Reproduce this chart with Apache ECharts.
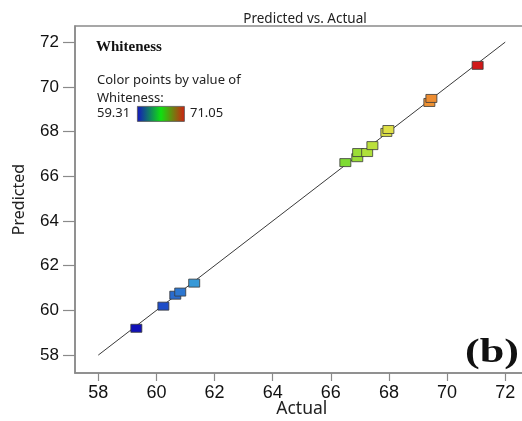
<!DOCTYPE html>
<html><head><meta charset="utf-8">
<script src="https://cdn.jsdelivr.net/npm/echarts@6/dist/echarts.min.js"></script>
<style>html,body{margin:0;padding:0;background:#fff}#c{width:522px;height:421px}</style>
</head><body><div id="c"></div>
<script>
const actual    = [59.31, 60.24, 60.65, 60.82, 61.30, 66.50, 66.91, 66.94, 67.25, 67.43, 67.91, 67.98, 69.39, 69.46, 71.05];
const predicted = [59.20, 60.19, 60.68, 60.82, 61.22, 66.61, 66.83, 67.06, 67.06, 67.37, 67.96, 68.09, 69.30, 69.48, 70.96];
const diagonal = [58, 72];
const tickValues = [58, 60, 62, 64, 66, 68, 70, 72];
const colorMin = 59.31, colorMax = 71.05;
const rampColors = ['#1010b8','#2050c8','#3898d8','#38b0c8','#30c0a0','#30c870','#40d040','#68d830','#a8e038','#e8e048','#f0a838','#e86028','#d01818'];

const chart = echarts.init(document.getElementById('c'), null, {renderer: 'canvas'});
const tickFont = 'Liberation Sans, Arial, sans-serif';
const uiFont = 'Noto Sans, Open Sans, sans-serif';
chart.setOption({
  animation: false,
  backgroundColor: '#fff',
  title: {text: 'Predicted vs. Actual', left: 300, top: 7, textAlign: 'center',
    textStyle: {fontFamily: uiFont, fontSize: 13.5, fontWeight: 'normal', color: '#222'}},
  grid: {left: 75, top: 26, right: -6.5, bottom: 48, outerBoundsMode: 'none', containLabel: false,
    show: true, borderColor: '#8a8a8a', borderWidth: 1.5, backgroundColor: 'transparent'},
  xAxis: {type: 'value', min: 57.2, max: 72.8,
    name: 'Actual', nameLocation: 'middle', nameGap: 36, nameMoveOverlap: false,
    nameTextStyle: {fontFamily: uiFont, fontSize: 17.5, color: '#222', verticalAlign: 'middle'},
    axisLine: {show: true, onZero: false, lineStyle: {color: '#8a8a8a', width: 1.5}},
    axisTick: {show: true, length: 8, customValues: tickValues, lineStyle: {color: '#8a8a8a', width: 1.2}},
    axisLabel: {customValues: tickValues, margin: 11, fontFamily: tickFont, fontSize: 18, color: '#111'},
    splitLine: {show: false}},
  yAxis: {type: 'value', min: 57.2, max: 72.72,
    name: 'Predicted', nameLocation: 'middle', nameGap: 56, nameMoveOverlap: false,
    nameTextStyle: {fontFamily: uiFont, fontSize: 16, color: '#222', verticalAlign: 'middle'},
    axisLine: {show: true, onZero: false, lineStyle: {color: '#8a8a8a', width: 1.5}},
    axisTick: {show: true, length: 12, customValues: tickValues, lineStyle: {color: '#8a8a8a', width: 1.2}},
    axisLabel: {customValues: tickValues, margin: 16, fontFamily: tickFont, fontSize: 17, color: '#111', padding: [0, 0, 6, 0]},
    splitLine: {show: false}},
  visualMap: {show: false, type: 'continuous', seriesIndex: 1, dimension: 0, min: colorMin, max: colorMax,
    inRange: {color: rampColors}},
  series: [
    {type: 'line', data: [[diagonal[0], diagonal[0]], [diagonal[1], diagonal[1]]], symbol: 'none',
      lineStyle: {color: '#3a3a3a', width: 1}, silent: true, z: 2},
    {type: 'scatter', data: actual.map((a, i) => [a, predicted[i]]), symbol: 'rect', symbolSize: [11, 8],
      itemStyle: {borderColor: '#3a3a3a', borderWidth: 0.8, opacity: 1}, z: 3}
  ],
  graphic: [
    {type: 'text', left: 96, top: 40, style: {text: 'Whiteness', font: 'bold 15px "Liberation Serif", "Times New Roman", serif', fill: '#111'}},
    {type: 'text', left: 97, top: 74, style: {text: 'Color points by value of', font: '13px "Noto Sans", sans-serif', fill: '#222'}},
    {type: 'text', left: 97, top: 92, style: {text: 'Whiteness:', font: '13px "Noto Sans", sans-serif', fill: '#222'}},
    {type: 'text', left: 97, top: 107, style: {text: String(colorMin.toFixed(2)), font: '13px "Noto Sans", sans-serif', fill: '#222'}},
    {type: 'text', left: 190, top: 107, style: {text: String(colorMax.toFixed(2)), font: '13px "Noto Sans", sans-serif', fill: '#222'}},
    {type: 'rect', left: 137, top: 106, shape: {width: 47, height: 15},
      style: {fill: new echarts.graphic.LinearGradient(0, 0, 1, 0, [
        {offset: 0, color: '#1414c0'}, {offset: 0.5, color: '#10e010'}, {offset: 1, color: '#d02010'}]),
        stroke: '#555', lineWidth: 0.8}},
    {type: 'text', x: 519, y: 353, scaleX: 1.3,
      style: {text: '(b)', align: 'right', verticalAlign: 'middle', font: 'bold 34px "Liberation Serif", "Times New Roman", serif', fill: '#111'}}
  ]
});
</script></body></html>
